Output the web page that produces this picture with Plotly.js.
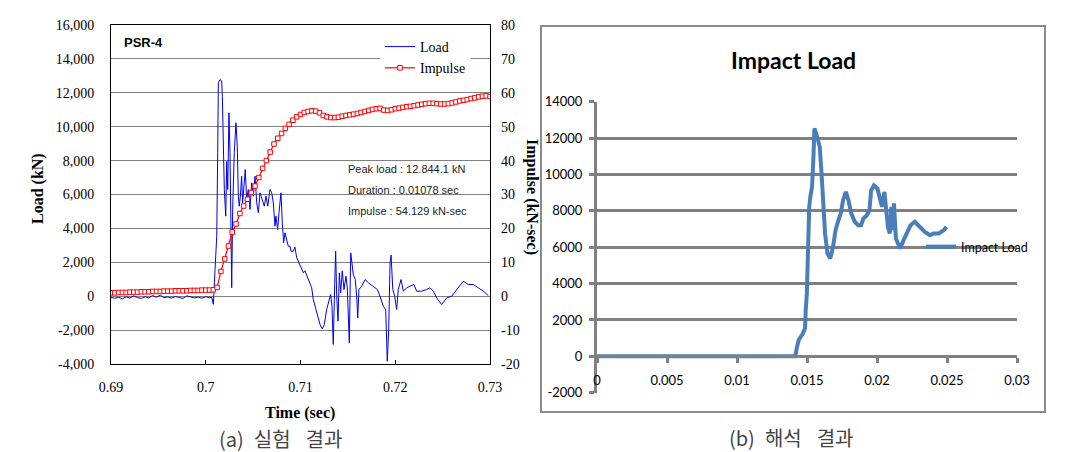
<!DOCTYPE html>
<html><head><meta charset="utf-8">
<script src="https://cdn.plot.ly/plotly-3.0.1.min.js"></script>
<style>html,body{margin:0;padding:0;background:#fff}#chart{width:1089px;height:452px}</style>
</head><body><div id="chart"></div>
<script>
// (a) experiment: Load (kN) vs time
const loadT = [0.6900,0.6904,0.6908,0.6912,0.6916,0.6920,0.6924,0.6928,0.6932,0.6936,0.6940,0.6944,0.6948,0.6952,0.6956,0.6960,0.6964,0.6968,0.6972,0.6976,0.6980,0.6984,0.6988,0.6992,0.6996,0.7000,0.7004,0.70063,0.70080,0.70098,0.70116,0.70126,0.70133,0.70150,0.70168,0.70175,0.70185,0.70196,0.70211,0.70221,0.70232,0.70245,0.70256,0.70266,0.70274,0.70284,0.70301,0.70319,0.70333,0.70344,0.70354,0.70365,0.70379,0.70389,0.70407,0.70417,0.70432,0.70449,0.70467,0.70485,0.70502,0.70520,0.70538,0.70555,0.70573,0.70597,0.70618,0.70636,0.70654,0.70678,0.70696,0.70713,0.70731,0.70741,0.70759,0.70773,0.70794,0.70808,0.70822,0.70836,0.70854,0.70871,0.70889,0.70900,0.70924,0.70941,0.70960,0.70995,0.71030,0.71047,0.71082,0.71118,0.71135,0.71171,0.71206,0.71230,0.71251,0.71276,0.71304,0.71318,0.71332,0.71346,0.71361,0.71371,0.71382,0.71396,0.71410,0.71424,0.71441,0.71459,0.71480,0.71494,0.71515,0.71530,0.71543,0.71557,0.71578,0.71593,0.71604,0.71617,0.71646,0.71681,0.71716,0.71768,0.71811,0.71839,0.71874,0.71899,0.71916,0.71931,0.71945,0.71956,0.71974,0.71994,0.72015,0.72032,0.72061,0.72086,0.72121,0.72156,0.72198,0.72226,0.72279,0.72332,0.72367,0.72402,0.72437,0.72490,0.72543,0.72596,0.72649,0.72683,0.72718,0.72771,0.72824,0.72876,0.72929,0.72982];
const loadV = [-80,-120,-60,-150,-40,-110,20,-90,-130,-30,-100,40,-60,60,-90,-40,-110,-20,-70,-130,20,-60,-100,-50,-120,-30,-90,-60,-480,1575,3540,8460,12590,12780,12700,11800,9440,6295,4720,7950,6295,10820,8460,4920,500,5115,8460,10230,8850,5900,5310,5900,7080,5510,6690,7470,5700,6295,5115,6690,5900,7080,5510,4920,6100,5700,5310,5900,5310,6295,6100,5510,4130,4720,3935,4920,6100,4330,3150,3740,3345,2950,2950,2655,2655,2900,2265,1770,1380,1500,985,495,-195,-980,-1670,-1930,-1670,-785,-195,100,-590,-2850,690,2655,0,-1470,1380,195,1500,395,1180,495,-2755,2560,1970,1280,985,0,-1280,395,590,985,790,590,395,0,-590,-785,-3835,-1970,1970,2425,395,0,-785,395,985,295,495,590,690,295,295,395,495,295,-100,-490,-100,0,395,690,885,690,690,495,295,40];

// (a) experiment: Impulse (kN-sec) vs time
const impT = [0.6900,0.6904,0.6908,0.6912,0.6916,0.6920,0.6924,0.6928,0.6932,0.6936,0.6940,0.6944,0.6948,0.6952,0.6956,0.6960,0.6964,0.6968,0.6972,0.6976,0.6980,0.6984,0.6988,0.6992,0.6996,0.7000,0.7004,0.7008,0.7012,0.7016,0.7020,0.7024,0.7028,0.7032,0.7036,0.7040,0.7044,0.7048,0.7052,0.7056,0.7060,0.7064,0.7068,0.7072,0.7076,0.7080,0.7084,0.7088,0.7092,0.7096,0.7100,0.7104,0.7108,0.7112,0.7116,0.7120,0.7124,0.7128,0.7132,0.7136,0.7140,0.7144,0.7148,0.7152,0.7156,0.7160,0.7164,0.7168,0.7172,0.7176,0.7180,0.7184,0.7188,0.7192,0.7196,0.7200,0.7204,0.7208,0.7212,0.7216,0.7220,0.7224,0.7228,0.7232,0.7236,0.7240,0.7244,0.7248,0.7252,0.7256,0.7260,0.7264,0.7268,0.7272,0.7276,0.7280,0.7284,0.7288,0.7292,0.7296,0.7300];
const impV = [1.0,1.0,1.1,1.1,1.1,1.2,1.2,1.2,1.3,1.3,1.3,1.4,1.4,1.4,1.5,1.5,1.5,1.6,1.6,1.6,1.6,1.7,1.7,1.7,1.8,1.8,1.8,1.9,2.6,7.3,11.0,14.8,18.9,21.3,24.4,26.6,28.6,30.6,32.5,35.0,37.7,40.0,42.5,44.9,46.6,48.0,49.5,50.7,51.9,52.9,53.6,54.2,54.5,54.7,54.6,54.1,53.3,52.9,52.7,52.7,52.8,53.1,53.3,53.5,53.7,53.9,54.2,54.5,54.8,55.1,55.3,55.4,54.9,54.8,55.0,55.3,55.5,55.7,55.9,56.0,56.2,56.4,56.6,56.8,56.9,56.9,56.8,56.7,56.7,56.8,57.0,57.3,57.6,57.8,58.0,58.3,58.5,58.8,59.0,59.1,58.9];

// (b) analysis: Impact Load vs time
const simT = [0,0.0075,0.01416,0.01429,0.01441,0.01471,0.01486,0.01491,0.01499,0.01504,0.01509,0.01516,0.01524,0.01536,0.01546,0.01553,0.01566,0.01578,0.01591,0.01604,0.01616,0.01629,0.01646,0.01666,0.01686,0.01704,0.01721,0.01741,0.01758,0.01778,0.01796,0.01816,0.01841,0.01866,0.01886,0.01903,0.01928,0.01946,0.01958,0.01978,0.02003,0.02021,0.02036,0.02053,0.02066,0.02078,0.02091,0.02103,0.02111,0.02121,0.02135,0.02153,0.02165,0.02190,0.02215,0.02240,0.02270,0.02303,0.02340,0.02378,0.02403,0.02440,0.02477,0.02497];
const simV = [0,0,0,530,900,1260,1540,2540,3460,4920,6760,8220,8770,9320,10970,12530,12250,11880,11520,10050,8220,6760,5660,5380,6020,6940,7400,7860,8590,9040,8590,7860,7400,7210,7210,7580,7760,8040,9130,9400,9230,8770,8220,9040,8220,7120,6760,8220,6940,8410,6480,6210,5930,6390,6850,7210,7400,7120,6850,6660,6760,6760,6940,7120];

// tick labels
const xTickA = [0.69,0.70,0.71,0.72,0.73];
const xTickAText = ['0.69','0.7','0.71','0.72','0.73'];
const yTickA = [-4000,-2000,0,2000,4000,6000,8000,10000,12000,14000,16000];
const yTickAText = ['-4,000','-2,000','0','2,000','4,000','6,000','8,000','10,000','12,000','14,000','16,000'];
const y3TickA = [-20,-10,0,10,20,30,40,50,60,70,80];
const y3TickAText = ['-20','-10','0','10','20','30','40','50','60','70','80'];
const xTickB = [0,0.005,0.01,0.015,0.02,0.025,0.03];
const xTickBText = ['0','0.005','0.01','0.015','0.02','0.025','0.03'];
const yTickB = [-2000,0,2000,4000,6000,8000,10000,12000,14000];
const yTickBText = ['-2000','0','2000','4000','6000','8000','10000','12000','14000'];

const W = 1089, H = 452;
const px = v => v / W, py = v => 1 - v / H;
const serif = 'Liberation Serif, Times New Roman, serif';
const sans = 'Liberation Sans, Arial, sans-serif';
const cal = 'Lato, Open Sans, sans-serif';
const kr = 'Noto Sans CJK KR, sans-serif';
const grayB = '#808080';

const traces = [
  {x: loadT, y: loadV, name: 'Load', type: 'scatter', mode: 'lines', xaxis: 'x', yaxis: 'y',
   line: {color: '#0000ee', width: 1}, legend: 'legend'},
  {x: impT, y: impV, name: 'Impulse', type: 'scatter', mode: 'lines+markers', xaxis: 'x', yaxis: 'y3',
   line: {color: '#ff0000', width: 1.2},
   marker: {symbol: 'square', size: 4.5, color: '#ffffff', line: {color: '#ff0000', width: 1}}, legend: 'legend'},
  {x: simT, y: simV, name: 'Impact Load', type: 'scatter', mode: 'lines', xaxis: 'x2', yaxis: 'y2',
   line: {color: '#4a7ebb', width: 4}, legend: 'legend2'}
];

const layout = {
  width: W, height: H, margin: {l: 0, r: 0, t: 0, b: 0},
  paper_bgcolor: '#fff', plot_bgcolor: 'rgba(0,0,0,0)',
  showlegend: true,
  xaxis: {domain: [px(111), px(490)], range: [0.69, 0.73], anchor: 'y',
    tickvals: xTickA, ticktext: xTickAText, ticks: 'inside', ticklen: 4, tickcolor: '#000',
    showline: true, mirror: true, linecolor: '#000', linewidth: 1, showgrid: false, zeroline: false,
    tickfont: {family: serif, size: 14, color: '#000'}, ticklabelstandoff: 10},
  yaxis: {domain: [py(364), py(25)], range: [-4000, 16000], anchor: 'x',
    tickvals: yTickA, ticktext: yTickAText, ticks: '', showgrid: true, gridcolor: '#808080', gridwidth: 1,
    showline: true, mirror: true, linecolor: '#000', linewidth: 1, zeroline: false,
    tickfont: {family: serif, size: 14, color: '#000'}, ticklabelstandoff: 13},
  yaxis3: {overlaying: 'y', side: 'right', anchor: 'x', range: [-20, 80],
    tickvals: y3TickA, ticktext: y3TickAText, ticks: '', showgrid: false, zeroline: false, showline: false,
    tickfont: {family: serif, size: 14, color: '#000'}, ticklabelstandoff: 10},
  xaxis2: {domain: [px(597), px(1017)], range: [0, 0.03], anchor: 'free', position: py(356.3),
    tickvals: xTickB, ticktext: xTickBText, ticks: 'outside', ticklen: 5, tickwidth: 3, tickcolor: grayB,
    showline: true, linecolor: grayB, linewidth: 3, showgrid: false, zeroline: false,
    tickfont: {family: cal, size: 13, color: '#000'}, ticklabelstandoff: 6},
  yaxis2: {domain: [py(392.7), py(101.7)], range: [-2000, 14000], anchor: 'x2',
    tickvals: yTickB, ticktext: yTickBText, ticks: 'outside', ticklen: 5, tickwidth: 3, tickcolor: grayB,
    showgrid: true, gridcolor: grayB, gridwidth: 3, showline: true, linecolor: grayB, linewidth: 3, zeroline: false,
    tickfont: {family: cal, size: 13, color: '#000'}, ticklabelstandoff: 4},
  legend: {x: px(380), y: py(31), xanchor: 'left', yanchor: 'top', bgcolor: '#fff', borderwidth: 0,
    font: {family: serif, size: 14, color: '#000'}, tracegroupgap: 0, itemwidth: 30},
  legend2: {x: px(921), y: py(247), xanchor: 'left', yanchor: 'middle', bgcolor: 'rgba(0,0,0,0)', borderwidth: 0,
    font: {family: cal, size: 12.5, color: '#000'}},
  shapes: [
    {type: 'rect', xref: 'paper', yref: 'paper', x0: px(541), x1: px(1045), y0: py(412), y1: py(26),
     line: {color: '#8a8a8a', width: 2}, fillcolor: 'rgba(0,0,0,0)', layer: 'below'}
  ],
  annotations: [
    {xref: 'paper', yref: 'paper', x: px(122), y: py(42), xanchor: 'left', yanchor: 'middle', showarrow: false,
     text: '<b>PSR-4</b>', font: {family: sans, size: 13, color: '#000'}},
    {xref: 'paper', yref: 'paper', x: px(346), y: py(169), xanchor: 'left', yanchor: 'middle', showarrow: false,
     text: 'Peak load : 12.844.1 kN', font: {family: sans, size: 11, color: '#222'}},
    {xref: 'paper', yref: 'paper', x: px(346), y: py(190), xanchor: 'left', yanchor: 'middle', showarrow: false,
     text: 'Duration : 0.01078 sec', font: {family: sans, size: 11, color: '#222'}},
    {xref: 'paper', yref: 'paper', x: px(346), y: py(211), xanchor: 'left', yanchor: 'middle', showarrow: false,
     text: 'Impulse : 54.129 kN-sec', font: {family: sans, size: 11, color: '#222'}},
    {xref: 'paper', yref: 'paper', x: px(38), y: py(189), xanchor: 'center', yanchor: 'middle', showarrow: false,
     textangle: -90, text: '<b>Load (kN)</b>', font: {family: serif, size: 16, color: '#000'}},
    {xref: 'paper', yref: 'paper', x: px(532), y: py(197), xanchor: 'center', yanchor: 'middle', showarrow: false,
     textangle: 90, text: '<b>Impulse (kN-sec)</b>', font: {family: serif, size: 16, color: '#000'}},
    {xref: 'paper', yref: 'paper', x: px(300), y: py(413), xanchor: 'center', yanchor: 'middle', showarrow: false,
     text: '<b>Time (sec)</b>', font: {family: serif, size: 16, color: '#000'}},
    {xref: 'paper', yref: 'paper', x: px(280), y: py(438), xanchor: 'center', yanchor: 'middle', showarrow: false,
     text: '(a)\u2002실험\u2002\u2005결과', font: {family: kr, size: 20, color: '#444'}},
    {xref: 'paper', yref: 'paper', x: px(791), y: py(437), xanchor: 'center', yanchor: 'middle', showarrow: false,
     text: '(b)\u2002해석\u2002\u2005결과', font: {family: kr, size: 20, color: '#444'}},
    {xref: 'paper', yref: 'paper', x: px(793), y: py(60), xanchor: 'center', yanchor: 'middle', showarrow: false,
     text: '<b>Impact Load</b>', font: {family: cal, size: 23, color: '#000'}}
  ]
};

Plotly.newPlot('chart', traces, layout, {displayModeBar: false, staticPlot: true});
</script></body></html>
